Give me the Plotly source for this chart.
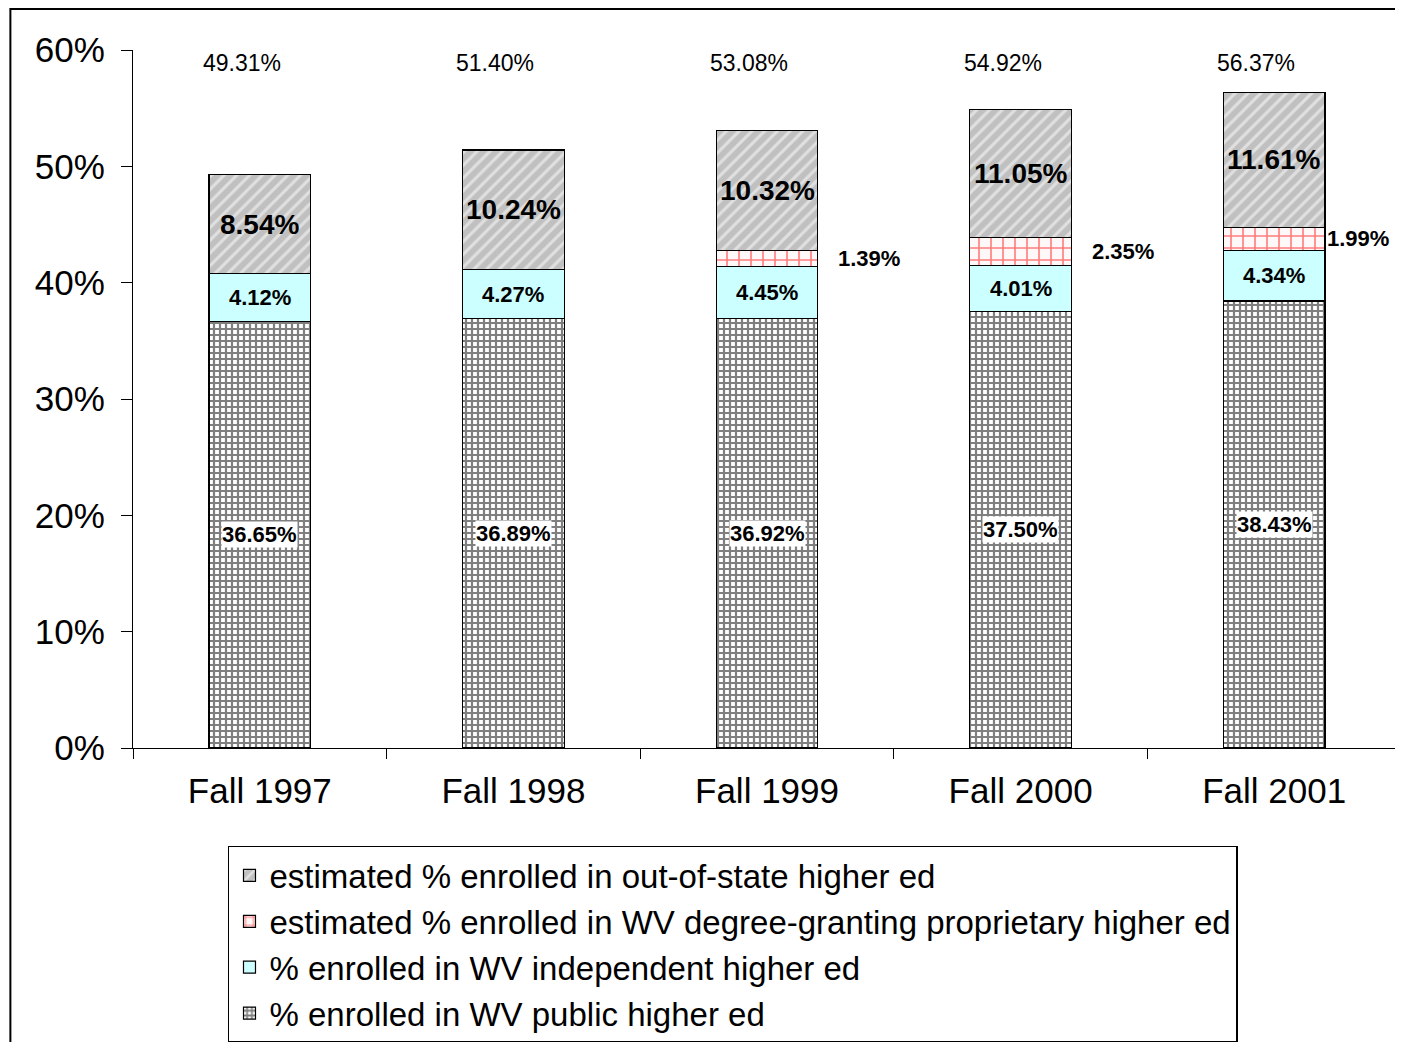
import plotly.graph_objects as go

categories = ["Fall 1997", "Fall 1998", "Fall 1999", "Fall 2000", "Fall 2001"]
public_vals = [36.65, 36.89, 36.92, 37.50, 38.43]
independent_vals = [4.12, 4.27, 4.45, 4.01, 4.34]
proprietary_vals = [0.0, 0.0, 1.39, 2.35, 1.99]
outofstate_vals = [8.54, 10.24, 10.32, 11.05, 11.61]
totals = [49.31, 51.40, 53.08, 54.92, 56.37]

names = [
    "% enrolled in WV public higher ed",
    "% enrolled in WV independent higher ed",
    "estimated % enrolled in WV degree-granting proprietary higher ed",
    "estimated % enrolled in out-of-state higher ed",
]

FONT = "Liberation Sans, Arial, sans-serif"
W = 0.4
line = dict(color="black", width=1.2)

fig = go.Figure()
fig.add_trace(go.Bar(
    x=categories, y=public_vals, name=names[0], width=W,
    marker=dict(color="white", line=line,
                pattern=dict(shape="+", fgcolor="black", bgcolor="white", size=6, solidity=0.6)),
))
fig.add_trace(go.Bar(
    x=categories, y=independent_vals, name=names[1], width=W,
    marker=dict(color="#ccffff", line=line),
))
fig.add_trace(go.Bar(
    x=categories, y=[v if v > 0 else None for v in proprietary_vals], name=names[2], width=W,
    marker=dict(color="#fff8f8", line=line,
                pattern=dict(shape="+", fgcolor="#ff0000", bgcolor="#fff8f8", size=12, solidity=0.25)),
))
fig.add_trace(go.Bar(
    x=categories, y=outofstate_vals, name=names[3], width=W,
    marker=dict(color="#c0c0c0", line=line,
                pattern=dict(shape="/", fgcolor="white", bgcolor="#c0c0c0", size=9, solidity=0.35)),
))

annotations = []
n = len(categories)
for i, c in enumerate(categories):
    base = 0.0
    annotations.append(dict(x=c, y=base + public_vals[i] / 2, text=f"<b>{public_vals[i]:.2f}%</b>",
                            showarrow=False, font=dict(family=FONT, size=22, color="black"),
                            bgcolor="white", borderpad=0))
    base += public_vals[i]
    annotations.append(dict(x=c, y=base + independent_vals[i] / 2, text=f"<b>{independent_vals[i]:.2f}%</b>",
                            showarrow=False, font=dict(family=FONT, size=22, color="black")))
    base += independent_vals[i]
    if proprietary_vals[i] > 0:
        annotations.append(dict(x=c, y=base + proprietary_vals[i] / 2, text=f"<b>{proprietary_vals[i]:.2f}%</b>",
                                showarrow=False, xshift=(84 if i == n - 1 else 102),
                                font=dict(family=FONT, size=22, color="black")))
    base += proprietary_vals[i]
    annotations.append(dict(x=c, y=base + outofstate_vals[i] / 2, text=f"<b>{outofstate_vals[i]:.2f}%</b>",
                            showarrow=False, font=dict(family=FONT, size=28, color="black")))
    annotations.append(dict(x=c, y=0.981, yref="paper", yanchor="middle", text=f"{totals[i]:.2f}%",
                            showarrow=False, xshift=-18, font=dict(family=FONT, size=23, color="black")))

fig.update_layout(
    width=1395, height=1034,
    margin=dict(l=125, r=2, t=42, b=294, autoexpand=False),
    barmode="stack",
    bargap=0.6,
    plot_bgcolor="white", paper_bgcolor="white",
    font=dict(family=FONT, color="black"),
    annotations=annotations,
    showlegend=True,
    legend=dict(
        xref="container", yref="container",
        x=0.1577, y=0.1896, xanchor="left", yanchor="top",
        traceorder="reversed",
        bordercolor="black", borderwidth=1.5,
        font=dict(family=FONT, size=33, color="black"),
        bgcolor="white",
        itemwidth=30,
    ),
    shapes=[dict(type="rect", xref="paper", yref="paper",
                 x0=-0.0967, x1=1.03, y0=-0.6, y1=1.0587,
                 line=dict(color="black", width=2), fillcolor="rgba(0,0,0,0)", layer="below")],
)
fig.update_xaxes(
    type="category", showline=True, linecolor="black", linewidth=1.2,
    ticks="outside", ticklen=10, tickcolor="black", tickson="boundaries",
    tickfont=dict(family=FONT, size=35, color="black"),
    ticklabelstandoff=12, showgrid=False,
)
fig.update_yaxes(
    range=[0, 60], dtick=10, ticksuffix="%", showline=True, linecolor="black", linewidth=1.2,
    ticks="outside", ticklen=11, tickcolor="black",
    tickfont=dict(family=FONT, size=35, color="black"),
    ticklabelstandoff=9, showgrid=False, zeroline=False,
)

fig.write_html("out.html")
